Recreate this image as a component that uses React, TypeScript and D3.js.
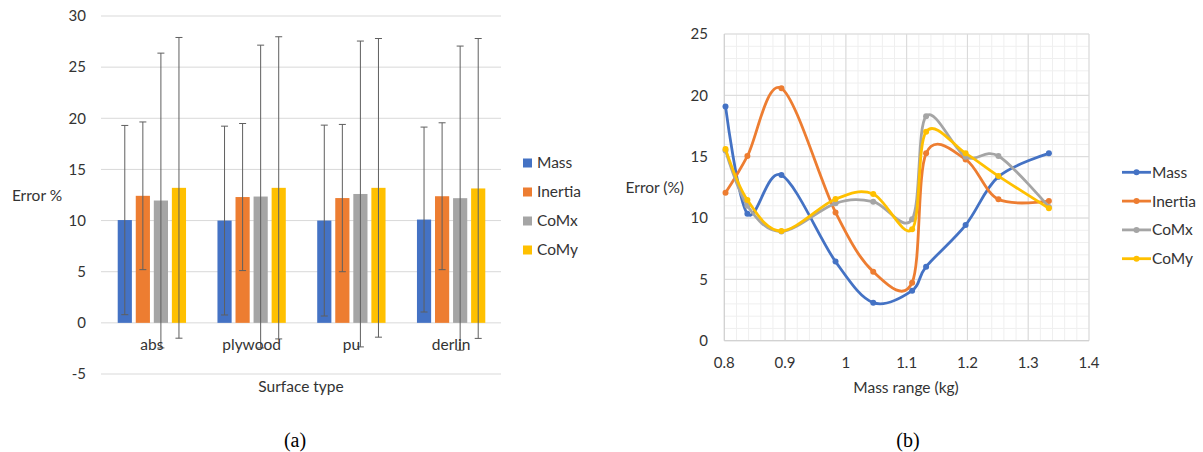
import React from "react";
import * as d3 from "d3";

// ---------- data (a) ----------
const categories = ["abs", "plywood", "pu", "derlin"];
const seriesNames = ["Mass", "Inertia", "CoMx", "CoMy"];
const barMass = [10.05, 10.0, 10.0, 10.1];
const barInertia = [12.42, 12.3, 12.2, 12.38];
const barCoMx = [11.96, 12.35, 12.6, 12.19];
const barCoMy = [13.2, 13.2, 13.2, 13.14];
const errMass = [9.25, 9.23, 9.33, 9.04];
const errInertia = [7.22, 7.19, 7.2, 7.18];
const errCoMx = [14.41, 14.8, 14.95, 14.87];
const errCoMy = [14.7, 14.77, 14.6, 14.66];
const yTicksA = [-5, 0, 5, 10, 15, 20, 25, 30];

// ---------- data (b) ----------
const massRange = [0.802, 0.838, 0.894, 0.983, 1.045, 1.109, 1.132, 1.197, 1.251, 1.334];
const lineMass = [19.1, 10.35, 13.5, 6.45, 3.1, 4.08, 6.03, 9.43, 13.37, 15.27];
const lineInertia = [12.06, 15.05, 20.57, 10.46, 5.63, 4.73, 15.27, 14.78, 11.52, 11.38];
const lineCoMx = [15.5, 11.0, 8.9, 11.2, 11.33, 9.9, 18.3, 15.0, 15.05, 10.9];
const lineCoMy = [15.62, 11.47, 8.94, 11.55, 11.96, 9.08, 17.03, 15.27, 13.42, 10.79];
const xTicksB = [0.8, 0.9, 1, 1.1, 1.2, 1.3, 1.4];
const yTicksB = [0, 5, 10, 15, 20, 25];

const COLORS = ["#4472C4", "#ED7D31", "#A5A5A5", "#FFC000"];
const FONT = "Lato, 'Open Sans', sans-serif";
const TXT = "#333333";
const FS = 15.5;
const TFS = 15;

export default function App() {
  // ----- chart (a) -----
  const barVals = [barMass, barInertia, barCoMx, barCoMy];
  const errVals = [errMass, errInertia, errCoMx, errCoMy];
  const xA = d3.scaleBand<string>().domain(categories).range([102, 501]).paddingInner(0.315).paddingOuter(0.1575);
  const xInner = d3.scaleBand<string>().domain(seriesNames).range([0, xA.bandwidth()]).paddingInner(0.215);
  const yA = d3.scaleLinear().domain([-5, 30]).range([374, 16]);

  // ----- chart (b) -----
  const xB = d3.scaleLinear().domain([0.8, 1.4]).range([724.3, 1089]);
  const yB = d3.scaleLinear().domain([0, 25]).range([340.7, 34]);
  const lineVals = [lineMass, lineInertia, lineCoMx, lineCoMy];
  const lineGen = d3
    .line<[number, number]>()
    .x((d) => xB(d[0]))
    .y((d) => yB(d[1]))
    .curve(d3.curveCatmullRom.alpha(0));
  const minorX = d3.range(0, 31).map((i) => 0.8 + i * 0.02);
  const minorY = d3.range(0, 26);

  return (
    <svg
      width={1203}
      height={452}
      style={{ position: "absolute", left: 0, top: 0, background: "#fff" }}
      fontFamily={FONT}
    >
      <rect x={0} y={0} width={1203} height={452} fill="#fff" />
      {/* ===== chart (a) ===== */}
      {yTicksA.map((t) => (
        <g key={"ga" + t}>
          <line x1={101} x2={501} y1={yA(t)} y2={yA(t)} stroke="#d9d9d9" strokeWidth={1} />
          <text x={86} y={yA(t)} dy="0.35em" textAnchor="end" fontSize={TFS} fill={TXT}>
            {t}
          </text>
        </g>
      ))}
      {categories.map((c, ci) => (
        <g key={c}>
          {seriesNames.map((s, si) => {
            const x0 = (xA(c) as number) + (xInner(s) as number);
            const v = barVals[si][ci];
            const e = errVals[si][ci];
            const cx = x0 + xInner.bandwidth() / 2;
            return (
              <g key={s}>
                <rect
                  x={x0}
                  y={yA(Math.max(0, v))}
                  width={xInner.bandwidth()}
                  height={Math.abs(yA(v) - yA(0))}
                  fill={COLORS[si]}
                />
                <line x1={cx} x2={cx} y1={yA(v + e)} y2={yA(v - e)} stroke="#5f5f5f" strokeWidth={1} />
                <line x1={cx - 3.5} x2={cx + 3.5} y1={yA(v + e)} y2={yA(v + e)} stroke="#5f5f5f" strokeWidth={1} />
                <line x1={cx - 3.5} x2={cx + 3.5} y1={yA(v - e)} y2={yA(v - e)} stroke="#5f5f5f" strokeWidth={1} />
              </g>
            );
          })}
          <text
            x={(xA(c) as number) + xA.bandwidth() / 2}
            y={345}
            dy="0.35em"
            textAnchor="middle"
            fontSize={FS}
            fill={TXT}
          >
            {c}
          </text>
        </g>
      ))}
      <text x={37} y={196} dy="0.35em" textAnchor="middle" fontSize={FS} fill={TXT}>
        Error %
      </text>
      <text x={301} y={387} dy="0.35em" textAnchor="middle" fontSize={FS} fill={TXT}>
        Surface type
      </text>
      {seriesNames.map((s, i) => (
        <g key={"la" + s}>
          <rect x={523} y={158.5 + i * 29} width={9} height={9} fill={COLORS[i]} />
          <text x={537} y={163 + i * 29} dy="0.35em" fontSize={FS} fill={TXT}>
            {s}
          </text>
        </g>
      ))}
      <text x={295} y={440} dy="0.35em" textAnchor="middle" fontSize={20} fontFamily="'Liberation Serif', serif" fill="#000">
        (a)
      </text>

      {/* ===== chart (b) ===== */}
      {minorX.map((v, i) => (
        <line key={"mx" + i} x1={xB(v)} x2={xB(v)} y1={yB(0)} y2={yB(25)} stroke="#efefef" strokeWidth={1} />
      ))}
      {minorY.map((v) => (
        <line key={"my" + v} x1={xB(0.8)} x2={xB(1.4)} y1={yB(v)} y2={yB(v)} stroke="#efefef" strokeWidth={1} />
      ))}
      {xTicksB.map((t) => (
        <g key={"xb" + t}>
          <line x1={xB(t)} x2={xB(t)} y1={yB(0)} y2={yB(25)} stroke="#d9d9d9" strokeWidth={1} />
          <text x={xB(t)} y={363} dy="0.35em" textAnchor="middle" fontSize={TFS} fill={TXT}>
            {t}
          </text>
        </g>
      ))}
      {yTicksB.map((t) => (
        <g key={"yb" + t}>
          <line x1={xB(0.8)} x2={xB(1.4)} y1={yB(t)} y2={yB(t)} stroke="#d9d9d9" strokeWidth={1} />
          <text x={708} y={yB(t)} dy="0.35em" textAnchor="end" fontSize={TFS} fill={TXT}>
            {t}
          </text>
        </g>
      ))}
      <line x1={xB(0.8)} x2={xB(1.4)} y1={yB(0)} y2={yB(0)} stroke="#cfcfcf" strokeWidth={1} />
      <line x1={xB(0.8)} x2={xB(0.8)} y1={yB(0)} y2={yB(25)} stroke="#cfcfcf" strokeWidth={1} />
      {lineVals.map((vals, si) => {
        const pts = massRange.map((x, i) => [x, vals[i]] as [number, number]);
        return (
          <g key={"lb" + si}>
            <path d={lineGen(pts) || ""} fill="none" stroke={COLORS[si]} strokeWidth={2.8} strokeLinecap="round" />
            {pts.map((p, i) => (
              <circle key={i} cx={xB(p[0])} cy={yB(p[1])} r={3} fill={COLORS[si]} />
            ))}
          </g>
        );
      })}
      <text x={684} y={188} dy="0.35em" textAnchor="end" fontSize={FS} fill={TXT}>
        Error (%)
      </text>
      <text x={906} y={388} dy="0.35em" textAnchor="middle" fontSize={FS} fill={TXT}>
        Mass range (kg)
      </text>
      {seriesNames.map((s, i) => (
        <g key={"lgb" + s}>
          <line x1={1122} x2={1151} y1={172.3 + i * 28.8} y2={172.3 + i * 28.8} stroke={COLORS[i]} strokeWidth={2.8} />
          <circle cx={1136.5} cy={172.3 + i * 28.8} r={3} fill={COLORS[i]} />
          <text x={1152} y={172.3 + i * 28.8} dy="0.35em" fontSize={FS} fill={TXT}>
            {s}
          </text>
        </g>
      ))}
      <text x={908} y={440} dy="0.35em" textAnchor="middle" fontSize={20} fontFamily="'Liberation Serif', serif" fill="#000">
        (b)
      </text>
    </svg>
  );
}
